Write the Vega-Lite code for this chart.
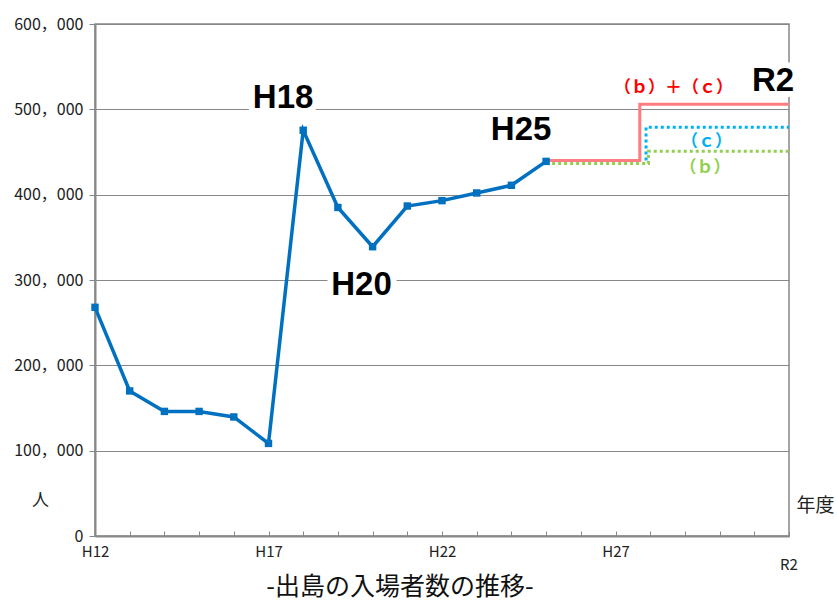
{
  "$schema": "https://vega.github.io/schema/vega-lite/v6.json",
  "width": 694,
  "height": 512,
  "autosize": "none",
  "padding": {"left": 95, "top": 24, "right": 48, "bottom": 65},
  "background": "white",
  "title": {
    "text": "-出島の入場者数の推移-",
    "orient": "bottom",
    "anchor": "middle",
    "dx": -42,
    "offset": 2,
    "font": "Noto Sans CJK JP",
    "fontSize": 25,
    "fontWeight": "normal",
    "color": "#111111"
  },
  "config": {
    "view": {"stroke": "#888888", "strokeWidth": 1.5},
    "font": "Noto Sans CJK JP"
  },
  "datasets": {
    "visitors": [
      {"year": "H12", "t": 0, "v": 268000},
      {"year": "H13", "t": 1, "v": 170000},
      {"year": "H14", "t": 2, "v": 146000},
      {"year": "H15", "t": 3, "v": 146000},
      {"year": "H16", "t": 4, "v": 139500},
      {"year": "H17", "t": 5, "v": 108500},
      {"year": "H18", "t": 6, "v": 475500},
      {"year": "H19", "t": 7, "v": 385000},
      {"year": "H20", "t": 8, "v": 339000},
      {"year": "H21", "t": 9, "v": 386700},
      {"year": "H22", "t": 10, "v": 393000},
      {"year": "H23", "t": 11, "v": 402000},
      {"year": "H24", "t": 12, "v": 411000},
      {"year": "H25", "t": 13, "v": 439000}
    ],
    "steps": [
      {"s": "bc", "i": 0, "t": 13, "v": 440000},
      {"s": "bc", "i": 1, "t": 15.7, "v": 440000},
      {"s": "bc", "i": 2, "t": 15.7, "v": 506000},
      {"s": "bc", "i": 3, "t": 20, "v": 506000},
      {"s": "c", "i": 0, "t": 15.88, "v": 440000},
      {"s": "c", "i": 1, "t": 15.88, "v": 479000},
      {"s": "c", "i": 2, "t": 20, "v": 479000},
      {"s": "b", "i": 0, "t": 13, "v": 436500},
      {"s": "b", "i": 1, "t": 15.95, "v": 436500},
      {"s": "b", "i": 2, "t": 15.95, "v": 451000},
      {"s": "b", "i": 3, "t": 20, "v": 451000}
    ],
    "notes": [
      {"label": "H18", "t": 5.42, "v": 502000},
      {"label": "H20", "t": 7.68, "v": 283000},
      {"label": "H25", "t": 12.28, "v": 464300},
      {"label": "R2", "t": 19.54, "v": 521600}
    ],
    "legendNotes": [
      {"label": "（ｂ）＋（ｃ）", "t": 16.67, "v": 519600},
      {"label": "（ｃ）", "t": 17.62, "v": 456100},
      {"label": "（ｂ）", "t": 17.58, "v": 425000}
    ]
  },
  "encoding": {
    "x": {
      "field": "t",
      "type": "quantitative",
      "scale": {"domain": [0, 20], "nice": false, "zero": false},
      "axis": {
        "values": [0, 1, 2, 3, 4, 5, 6, 7, 8, 9, 10, 11, 12, 13, 14, 15, 16, 17, 18, 19, 20],
        "labelExpr": "datum.value == 0 ? 'H12' : datum.value == 5 ? 'H17' : datum.value == 10 ? 'H22' : datum.value == 15 ? 'H27' : ''",
        "labelOverlap": false,
        "labelFlush": false,
        "labelFont": "Noto Sans CJK JP",
        "labelFontSize": 15,
        "labelColor": "#222222",
        "labelPadding": 13,
        "tickSize": -5,
        "tickColor": "#888888",
        "tickWidth": 1,
        "domainColor": "#888888",
        "domainWidth": 2,
        "grid": false,
        "title": "年度",
        "titleX": 720,
        "titleY": -31,
        "titleAngle": 0,
        "titleAlign": "center",
        "titleBaseline": "middle",
        "titleFont": "Noto Sans CJK JP",
        "titleFontSize": 19,
        "titleFontWeight": "normal",
        "titleColor": "#222222"
      }
    },
    "y": {
      "field": "v",
      "type": "quantitative",
      "scale": {"domain": [0, 600000], "nice": false},
      "axis": {
        "values": [0, 100000, 200000, 300000, 400000, 500000, 600000],
        "labelExpr": "replace(format(datum.value, ','), ',', '，')",
        "labelFont": "Noto Sans CJK JP",
        "labelFontSize": 16,
        "labelColor": "#222222",
        "labelPadding": 6,
        "tickSize": 6,
        "tickColor": "#888888",
        "tickWidth": 1,
        "domainColor": "#888888",
        "domainWidth": 2,
        "grid": true,
        "gridColor": "#888888",
        "gridWidth": 1,
        "title": "人",
        "titleX": -55,
        "titleY": 476,
        "titleAngle": 0,
        "titleAlign": "center",
        "titleBaseline": "middle",
        "titleFont": "Noto Sans CJK JP",
        "titleFontSize": 17,
        "titleFontWeight": "normal",
        "titleColor": "#222222"
      }
    }
  },
  "layer": [
    {
      "data": {"name": "notes"},
      "mark": {"type": "text", "font": "Liberation Sans", "fontSize": 33, "fontWeight": "bold", "align": "center", "baseline": "alphabetic", "color": "white", "stroke": "white", "strokeWidth": 12},
      "encoding": {"text": {"field": "label"}}
    },
    {
      "data": {"name": "steps"},
      "transform": [{"filter": "datum.s === 'bc'"}],
      "mark": {"type": "line", "color": "#FF7C80", "strokeWidth": 3},
      "encoding": {"order": {"field": "i"}}
    },
    {
      "data": {"name": "steps"},
      "transform": [{"filter": "datum.s === 'c'"}],
      "mark": {"type": "line", "color": "#00B0F0", "strokeWidth": 3, "strokeDash": [3, 3]},
      "encoding": {"order": {"field": "i"}}
    },
    {
      "data": {"name": "steps"},
      "transform": [{"filter": "datum.s === 'b'"}],
      "mark": {"type": "line", "color": "#92D050", "strokeWidth": 3, "strokeDash": [3, 3]},
      "encoding": {"order": {"field": "i"}}
    },
    {
      "data": {"name": "visitors"},
      "mark": {"type": "line", "color": "#0070C0", "strokeWidth": 3.5, "point": {"shape": "square", "filled": true, "size": 55, "color": "#0070C0"}},
      "encoding": {}
    },
    {
      "data": {"name": "notes"},
      "mark": {"type": "text", "font": "Liberation Sans", "fontSize": 33, "fontWeight": "bold", "align": "center", "baseline": "alphabetic", "color": "#000000"},
      "encoding": {"text": {"field": "label"}}
    },
    {
      "data": {"name": "legendNotes"},
      "mark": {"type": "text", "font": "Noto Sans CJK JP", "fontSize": 17, "fontWeight": "bold", "align": "center", "baseline": "alphabetic"},
      "encoding": {
        "text": {"field": "label"},
        "color": {"field": "label", "type": "nominal", "scale": {"domain": ["（ｂ）＋（ｃ）", "（ｃ）", "（ｂ）"], "range": ["#FF0000", "#00B0F0", "#92D050"]}, "legend": null}
      }
    },
    {
      "data": {"values": [{"t": 20, "v": 0, "label": "R2"}]},
      "mark": {"type": "text", "font": "Noto Sans CJK JP", "fontSize": 15, "color": "#222222", "align": "center", "baseline": "middle", "dy": 29},
      "encoding": {"text": {"field": "label"}}
    }
  ]
}
